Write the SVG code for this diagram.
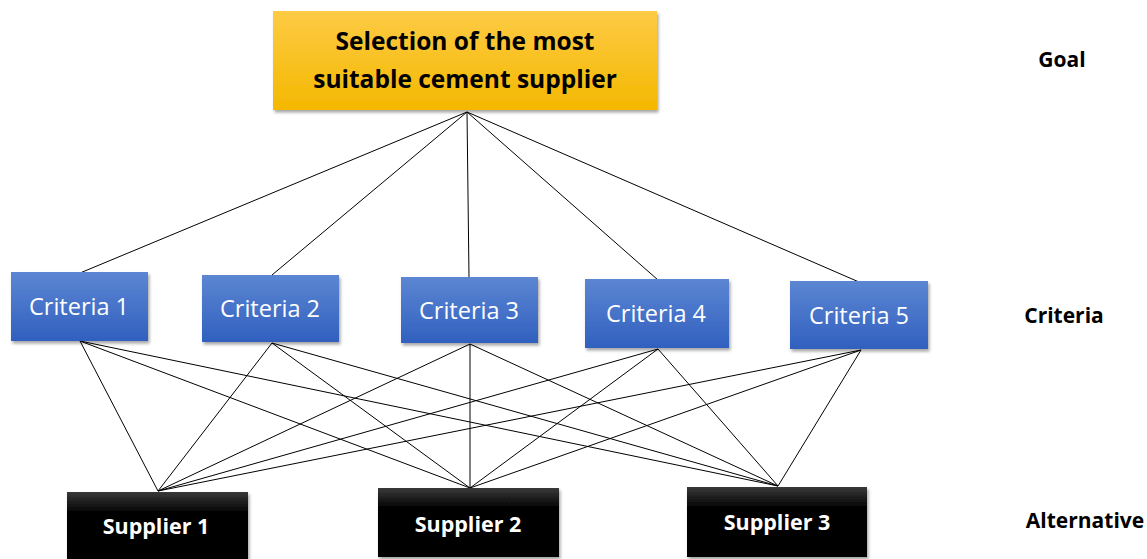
<svg xmlns="http://www.w3.org/2000/svg" width="1147" height="559" viewBox="0 0 1147 559">
  <defs>
    <linearGradient id="gGold" x1="0" y1="0" x2="0" y2="1">
      <stop offset="0" stop-color="#FDCB45"/>
      <stop offset="1" stop-color="#F4B800"/>
    </linearGradient>
    <linearGradient id="gBlue" x1="0" y1="0" x2="0" y2="1">
      <stop offset="0" stop-color="#5C86D2"/>
      <stop offset="1" stop-color="#3160BF"/>
    </linearGradient>
    <linearGradient id="gBlack" x1="0" y1="0" x2="0" y2="1">
      <stop offset="0" stop-color="#3a3a3a"/>
      <stop offset="0.3" stop-color="#000"/>
      <stop offset="1" stop-color="#000"/>
    </linearGradient>
    <filter id="shadow" x="-10%" y="-10%" width="125%" height="130%">
      <feDropShadow dx="1.5" dy="2.5" stdDeviation="1.5" flood-color="#000" flood-opacity="0.35"/>
    </filter>
  </defs>
  <style>
    .edge { stroke: #000; stroke-width: 1; fill: none; }
    .goal { fill: url(#gGold); filter: url(#shadow); }
    .crit { fill: url(#gBlue); filter: url(#shadow); }
    .alt { fill: url(#gBlack); filter: url(#shadow); }
    .t { font-family: "Open Sans", "Liberation Sans", sans-serif; text-anchor: middle; }
    .goalText { font-size: 24.5px; font-weight: bold; fill: #000; }
    .critText { font-size: 23.5px; fill: #fff; }
    .altText { font-size: 21.5px; font-weight: bold; fill: #fff; }
    .level { font-family: "Open Sans", "Liberation Sans", sans-serif; font-size: 21px; font-weight: bold; fill: #000; text-anchor: middle; }
  </style>

  <rect width="1147" height="559" fill="#fff"/>

  <!-- connectors -->
  <g id="connectors">
    <!-- goal to criteria -->
    <line class="edge" x1="467" y1="112" x2="80" y2="273"/>
    <line class="edge" x1="467" y1="112" x2="272" y2="275"/>
    <line class="edge" x1="467" y1="112" x2="469" y2="277"/>
    <line class="edge" x1="467" y1="112" x2="658" y2="280"/>
    <line class="edge" x1="467" y1="112" x2="859" y2="282"/>
    <!-- criteria to alternatives -->
    <line class="edge" x1="80" y1="341" x2="158" y2="491"/>
    <line class="edge" x1="80" y1="341" x2="470" y2="488"/>
    <line class="edge" x1="80" y1="341" x2="778" y2="486"/>
    <line class="edge" x1="272" y1="343" x2="158" y2="491"/>
    <line class="edge" x1="272" y1="343" x2="470" y2="488"/>
    <line class="edge" x1="272" y1="343" x2="778" y2="486"/>
    <line class="edge" x1="470" y1="344" x2="158" y2="491"/>
    <line class="edge" x1="470" y1="344" x2="470" y2="488"/>
    <line class="edge" x1="470" y1="344" x2="778" y2="486"/>
    <line class="edge" x1="658" y1="349" x2="158" y2="491"/>
    <line class="edge" x1="658" y1="349" x2="470" y2="488"/>
    <line class="edge" x1="658" y1="349" x2="778" y2="486"/>
    <line class="edge" x1="861" y1="350" x2="158" y2="491"/>
    <line class="edge" x1="861" y1="350" x2="470" y2="488"/>
    <line class="edge" x1="861" y1="350" x2="778" y2="486"/>
  </g>

  <!-- goal -->
  <g id="goal">
    <rect class="goal" x="273" y="11" width="384" height="99"/>
    <text class="t goalText" x="465" y="50">Selection of the most</text>
    <text class="t goalText" x="465" y="88">suitable cement supplier</text>
  </g>

  <!-- criteria -->
  <g id="criteria1">
    <rect class="crit" x="11" y="272" width="137" height="69"/>
    <text class="t critText" x="79" y="315">Criteria 1</text>
  </g>
  <g id="criteria2">
    <rect class="crit" x="202" y="275" width="137" height="67"/>
    <text class="t critText" x="270" y="317">Criteria 2</text>
  </g>
  <g id="criteria3">
    <rect class="crit" x="401" y="277" width="137" height="66"/>
    <text class="t critText" x="469" y="319">Criteria 3</text>
  </g>
  <g id="criteria4">
    <rect class="crit" x="585" y="279" width="144" height="69"/>
    <text class="t critText" x="656" y="322">Criteria 4</text>
  </g>
  <g id="criteria5">
    <rect class="crit" x="790" y="281" width="138" height="68"/>
    <text class="t critText" x="859" y="324">Criteria 5</text>
  </g>

  <!-- alternatives -->
  <g id="supplier1">
    <rect class="alt" x="67" y="492" width="181" height="70"/>
    <text class="t altText" x="156" y="534">Supplier 1</text>
  </g>
  <g id="supplier2">
    <rect class="alt" x="378" y="488" width="181" height="69"/>
    <text class="t altText" x="468" y="532">Supplier 2</text>
  </g>
  <g id="supplier3">
    <rect class="alt" x="687" y="487" width="180" height="70"/>
    <text class="t altText" x="777" y="530">Supplier 3</text>
  </g>

  <!-- hierarchy level labels -->
  <g id="levels">
    <text class="level" x="1062" y="67">Goal</text>
    <text class="level" x="1064" y="323">Criteria</text>
    <text class="level" x="1085" y="528">Alternative</text>
  </g>
</svg>
